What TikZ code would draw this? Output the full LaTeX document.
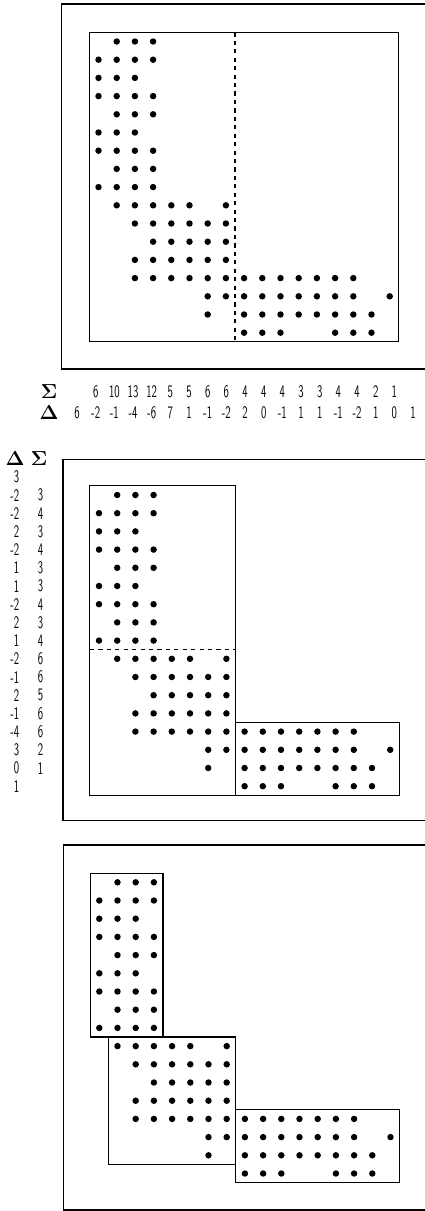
\documentclass[tikz,border=0pt]{standalone}
\usepackage{tikz}
\usepackage{xcolor}
\usepackage{graphicx}
\newcommand{\narrow}[1]{\scalebox{0.62}[1]{#1}}

\begin{document}
\begin{tikzpicture}[x=0.025cm, y=-0.025cm,
    num/.style={font=\sffamily\fontsize{12.5}{14}\selectfont, inner sep=0pt},
    sym/.style={font=\fontsize{13.5}{15}\selectfont, inner sep=0pt},
    frame/.style={line width=1pt},
    blk/.style={line width=0.8pt}]

% Canvas
\useasboundingbox (0,0) rectangle (424,1211);

% Grid pitch
\def\s{18.2}

% Outer frames
\draw[frame] (61.3,4) rectangle (440,369);
\draw[frame] (63,459.5) rectangle (440,820.5);
\draw[frame] (63.3,845) rectangle (440,1210);

% Dots (same pattern in all three panels)
\foreach \ox/\oy in {98.5/41.5, 99/495, 99.3/882.3} {
  \foreach \r/\cols in {1/{2,3,4}, 2/{1,2,3,4}, 3/{1,2,3}, 4/{1,2,3,4}, 5/{2,3,4},
    6/{1,2,3}, 7/{1,2,3,4}, 8/{2,3,4}, 9/{1,2,3,4},
    10/{2,3,4,5,6,8}, 11/{3,4,5,6,7,8}, 12/{4,5,6,7,8}, 13/{3,4,5,6,7,8},
    14/{3,4,5,6,7,8,9,10,11,12,13,14,15},
    15/{7,8,9,10,11,12,13,14,15,17},
    16/{7,9,10,11,12,13,14,15,16},
    17/{9,10,11,14,15,16}} {
    \foreach \c in \cols {
      \fill ({\ox+(\c-1)*\s},{\oy+(\r-1)*\s}) circle[radius=2.3pt];
    }
  }
}

% Panel 1 blocks
\draw[blk] ({98.5-0.5*\s},{41.5-0.5*\s}) rectangle ({98.5+16.5*\s},{41.5+16.5*\s});
\draw[blk, dashed] ({98.5+7.5*\s},{41.5-0.5*\s}) -- ({98.5+7.5*\s},{41.5+16.5*\s});

% Panel 1 sums and differences
\node[sym] (sig) at (49,392) {$\mathbf{\Sigma}$};
\node[sym] (del) at (49,413) {$\mathbf{\Delta}$};
\foreach \v [count=\i] in {6,10,13,12,5,5,6,6,4,4,4,3,3,4,4,2,1}
  \node[num] (cs\i) at ({77+18.67*\i},392) {\narrow{\v}};
\foreach \v [count=\i from 0] in {6,-2,-1,-4,-6,7,1,-1,-2,2,0,-1,1,1,-1,-2,1,0,1}
  \node[num] (cd\i) at ({77+18.67*\i},413) {\narrow{\v}};

% Panel 2 blocks
\draw[blk] ({99-0.5*\s},{495-0.5*\s}) rectangle ({99+7.5*\s},{495+16.5*\s});
\draw[blk, dashed] ({99-0.5*\s},{495+8.5*\s}) -- ({99+7.5*\s},{495+8.5*\s});
\draw[blk] ({99+7.5*\s},{495+12.5*\s}) rectangle ({99+16.5*\s},{495+16.5*\s});

% Panel 2 row labels
\node[sym] (hd) at (15,459) {$\mathbf{\Delta}$};
\node[sym] (hs) at (39,459) {$\mathbf{\Sigma}$};
\foreach \v [count=\k from 0] in {3,-2,-2,2,-2,1,1,-2,2,1,-2,-1,2,-1,-4,3,0,1}
  \node[num, anchor=east] (rd\k) at (19.5,{477+\k*\s}) {\narrow{\v}};
\foreach \v [count=\k] in {3,4,3,4,3,3,4,3,4,6,6,5,6,6,2,1}
  \node[num] (rs\k) at (40.5,{477+\k*\s}) {\narrow{\v}};

% Panel 3 blocks
\draw[blk] ({99.3-0.5*\s},{882.3-0.5*\s}) rectangle ({99.3+3.5*\s},{882.3+8.5*\s});
\draw[blk] ({99.3+0.5*\s},{882.3+8.5*\s}) rectangle ({99.3+7.5*\s},{882.3+15.5*\s});
\draw[blk] ({99.3+7.5*\s},{882.3+12.5*\s}) rectangle ({99.3+16.5*\s},{882.3+16.5*\s});

\end{tikzpicture}
\end{document}
